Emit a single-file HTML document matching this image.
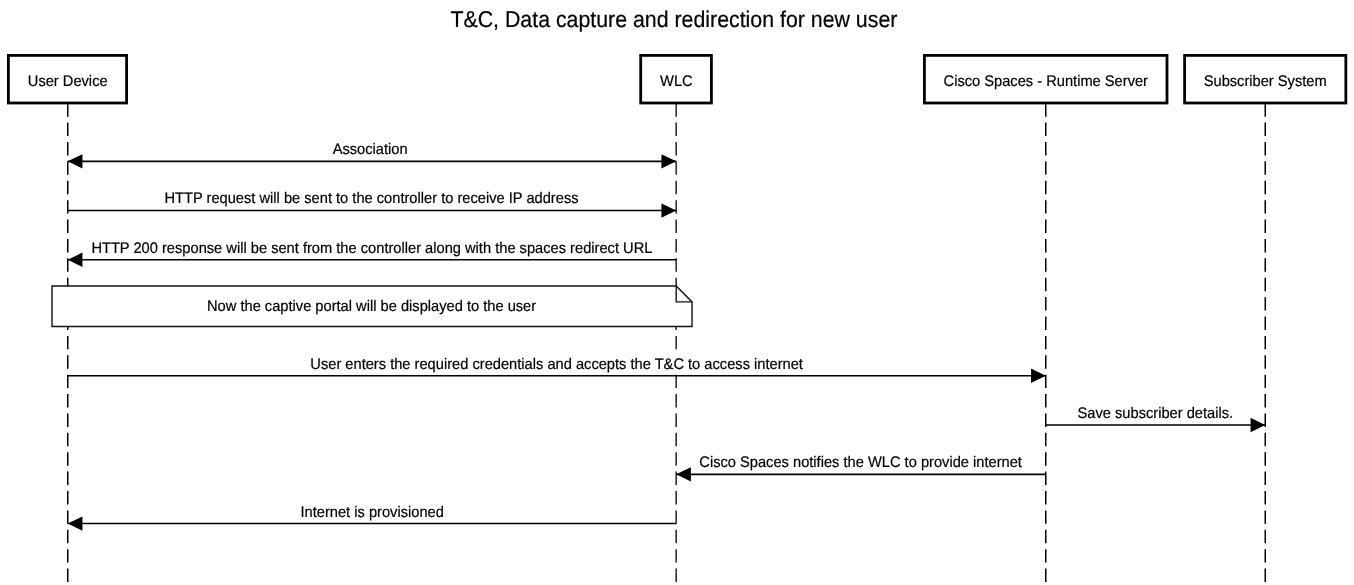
<!DOCTYPE html>
<html><head><meta charset="utf-8"><style>
html,body{margin:0;padding:0;background:#fff;width:1354px;height:585px;overflow:hidden}
svg{display:block;will-change:transform;text-rendering:geometricPrecision}
text{font-family:"Liberation Sans",sans-serif;fill:#000;stroke:#000;stroke-width:0.2px}
</style></head><body>
<svg width="1354" height="585" viewBox="0 0 1354 585">
<text transform="translate(673.91 26.65) scale(1 1.07)" text-anchor="middle" font-size="21.33">T&amp;C, Data capture and redirection for new user</text>
<line x1="67.75" y1="103.2" x2="67.75" y2="600" stroke="#000" stroke-width="1.5" stroke-dasharray="13.45 5.94"/>
<line x1="676.15" y1="103.2" x2="676.15" y2="600" stroke="#000" stroke-width="1.3" stroke-dasharray="13.45 5.94"/>
<line x1="1045.75" y1="103.2" x2="1045.75" y2="600" stroke="#000" stroke-width="1.5" stroke-dasharray="13.45 5.94"/>
<line x1="1265.25" y1="103.2" x2="1265.25" y2="600" stroke="#000" stroke-width="1.5" stroke-dasharray="13.45 5.94"/>
<rect x="8.4" y="55.4" width="118.20" height="47.60" fill="#fff" stroke="#000" stroke-width="2.8"/>
<text transform="translate(67.70 85.75) scale(1 1.045)" text-anchor="middle" font-size="14.67">User Device</text>
<rect x="640.6999999999999" y="55.4" width="70.70" height="47.60" fill="#fff" stroke="#000" stroke-width="2.8"/>
<text transform="translate(676.38 85.75) scale(1 1.045)" text-anchor="middle" font-size="14.67">WLC</text>
<rect x="924.4" y="55.4" width="242.60" height="47.60" fill="#fff" stroke="#000" stroke-width="2.8"/>
<text transform="translate(1045.77 85.75) scale(1 1.045)" text-anchor="middle" font-size="14.67">Cisco Spaces - Runtime Server</text>
<rect x="1184.6000000000001" y="55.4" width="161.25" height="47.60" fill="#fff" stroke="#000" stroke-width="2.8"/>
<text transform="translate(1265.20 85.75) scale(1 1.045)" text-anchor="middle" font-size="14.67">Subscriber System</text>
<line x1="67.75" y1="161.35" x2="676.15" y2="161.35" stroke="#000" stroke-width="1.6"/>
<path d="M676.15 161.35L661.45 154.2L661.45 168.5Z" fill="#000"/>
<path d="M67.75 161.35L82.45 154.2L82.45 168.5Z" fill="#000"/>
<text transform="translate(370.13 153.65) scale(1 1.045)" text-anchor="middle" font-size="14.67">Association</text>
<line x1="67.75" y1="210.55" x2="676.15" y2="210.55" stroke="#000" stroke-width="1.6"/>
<path d="M676.15 210.55L661.45 203.4L661.45 217.70000000000002Z" fill="#000"/>
<text transform="translate(371.49 202.80) scale(1 1.045)" text-anchor="middle" font-size="14.67">HTTP request will be sent to the controller to receive IP address</text>
<line x1="676.15" y1="259.75" x2="67.75" y2="259.75" stroke="#000" stroke-width="1.6"/>
<path d="M67.75 259.75L82.45 252.6L82.45 266.9Z" fill="#000"/>
<text transform="translate(371.88 252.75) scale(1 1.045)" text-anchor="middle" font-size="14.67">HTTP 200 response will be sent from the controller along with the spaces redirect URL</text>
<path d="M52.0 286.05L676.20 286.05L692.05 301.90L692.05 326.45L52.0 326.45Z" fill="#fff" stroke="#111" stroke-width="1.4"/>
<path d="M676.20 286.05L676.20 301.90L692.05 301.90" fill="none" stroke="#111" stroke-width="1.4"/>
<text transform="translate(371.58 310.70) scale(1 1.045)" text-anchor="middle" font-size="14.67">Now the captive portal will be displayed to the user</text>
<rect x="308" y="354.3" width="498" height="17" fill="#fff"/>
<line x1="67.75" y1="375.75" x2="1045.75" y2="375.75" stroke="#000" stroke-width="1.6"/>
<path d="M1045.75 375.75L1031.05 368.6L1031.05 382.9Z" fill="#000"/>
<text transform="translate(556.61 368.70) scale(1 1.045)" text-anchor="middle" font-size="14.67">User enters the required credentials and accepts the T&amp;C to access internet</text>
<line x1="1045.75" y1="425.0" x2="1265.25" y2="425.0" stroke="#000" stroke-width="1.6"/>
<path d="M1265.25 425.0L1250.55 417.85L1250.55 432.15Z" fill="#000"/>
<text transform="translate(1155.33 417.80) scale(1 1.045)" text-anchor="middle" font-size="14.67">Save subscriber details.</text>
<line x1="1045.75" y1="474.35" x2="676.15" y2="474.35" stroke="#000" stroke-width="1.6"/>
<path d="M676.15 474.35L690.85 467.20000000000005L690.85 481.5Z" fill="#000"/>
<text transform="translate(860.61 466.80) scale(1 1.045)" text-anchor="middle" font-size="14.67">Cisco Spaces notifies the WLC to provide internet</text>
<line x1="676.15" y1="523.55" x2="67.75" y2="523.55" stroke="#000" stroke-width="1.6"/>
<path d="M67.75 523.55L82.45 516.4L82.45 530.6999999999999Z" fill="#000"/>
<text transform="translate(372.16 516.90) scale(1 1.045)" text-anchor="middle" font-size="14.67">Internet is provisioned</text>
</svg>
</body></html>
